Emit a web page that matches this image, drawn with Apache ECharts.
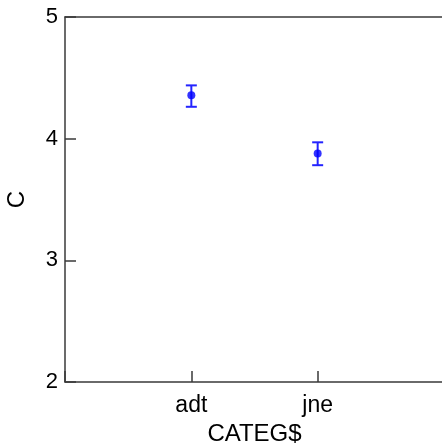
<!DOCTYPE html>
<html>
<head>
<meta charset="utf-8">
<script src="https://cdn.jsdelivr.net/npm/echarts@6/dist/echarts.min.js"></script>
<style>html,body{margin:0;padding:0;background:#fff}#c{width:442px;height:445px}</style>
</head>
<body>
<div id="c"></div>
<script>
var categories = ['adt', 'jne'];
var means = [4.356, 3.879];
var lower = [4.262, 3.782];
var upper = [4.438, 3.970];
var yTicks = [2, 3, 4, 5];

var chart = echarts.init(document.getElementById('c'), null, {renderer: 'canvas'});
var font = '"Liberation Sans", Arial, sans-serif';
var axisColor = '#3a3a3a';

var pts = categories.map(function (c, i) { return [i + 1, means[i]]; });
var bars = categories.map(function (c, i) { return [i + 1, lower[i], upper[i]]; });

chart.setOption({
  animation: false,
  grid: {left: 65, top: 17, bottom: 63, width: 379, containLabel: false, outerBoundsMode: 'none'},
  xAxis: [{
    type: 'value', min: 0, max: 3, interval: 1,
    name: 'CATEG$', nameLocation: 'middle', nameGap: 33,
    nameTextStyle: {fontFamily: font, fontSize: 24, color: '#000'},
    axisLine: {lineStyle: {color: axisColor, width: 1.5}},
    axisTick: {show: true, inside: true, length: 11, lineStyle: {color: axisColor, width: 1.5}},
    axisLabel: {fontFamily: font, fontSize: 23, color: '#000', margin: 12,
      formatter: function (v) { var i = Math.round(v) - 1; return categories[i] || ''; }},
    splitLine: {show: false}
  }, {
    type: 'value', position: 'top', min: 0, max: 3,
    axisLine: {show: true, lineStyle: {color: axisColor, width: 1.5}},
    axisTick: {show: false}, axisLabel: {show: false}, splitLine: {show: false}
  }],
  yAxis: {
    type: 'value', min: 2, max: 5, interval: 1,
    name: 'C', nameLocation: 'middle', nameGap: 36, nameRotate: 90,
    nameTextStyle: {fontFamily: font, fontSize: 24, color: '#000'},
    axisLine: {show: true, lineStyle: {color: axisColor, width: 1.5}},
    axisTick: {show: true, inside: true, length: 11, lineStyle: {color: axisColor, width: 1.5}},
    axisLabel: {fontFamily: font, fontSize: 22, color: '#000', margin: 7,
      formatter: function (v) { return yTicks.indexOf(v) >= 0 ? String(v) : ''; }},
    splitLine: {show: false}
  },
  series: [{
    type: 'custom',
    data: bars,
    renderItem: function (params, api) {
      var x = api.value(0);
      var lo = api.coord([x, api.value(1)]);
      var hi = api.coord([x, api.value(2)]);
      var hw = 5.5;
      var st = {stroke: '#2424ff', lineWidth: 2};
      return {type: 'group', children: [
        {type: 'line', shape: {x1: lo[0], y1: lo[1], x2: hi[0], y2: hi[1]}, style: st},
        {type: 'line', shape: {x1: lo[0] - hw, y1: lo[1], x2: lo[0] + hw, y2: lo[1]}, style: st},
        {type: 'line', shape: {x1: hi[0] - hw, y1: hi[1], x2: hi[0] + hw, y2: hi[1]}, style: st}
      ]};
    },
    z: 2
  }, {
    type: 'scatter',
    data: pts,
    symbol: 'circle', symbolSize: 8,
    itemStyle: {color: '#0000ff'},
    z: 3
  }]
});
</script>
</body>
</html>
